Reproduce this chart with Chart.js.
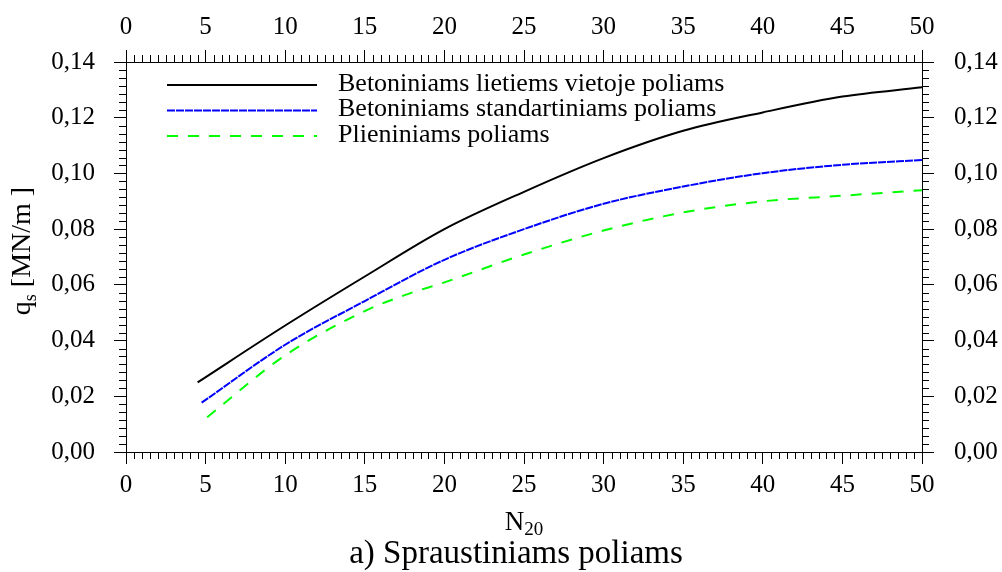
<!DOCTYPE html>
<html>
<head>
<meta charset="utf-8">
<script src="https://cdn.jsdelivr.net/npm/chart.js@4/dist/chart.umd.min.js"></script>
<style>
  html, body { margin: 0; padding: 0; background: #fff; }
  #dezute { width: 1002px; height: 572px; position: relative; }
</style>
</head>
<body>
<div id="dezute"><canvas id="grafikas"></canvas></div>
<script>
// Duomenys nuskaityti nuo paveikslo
const nLietiems = [4.5, 10, 15, 20, 25, 30, 35, 40, 45, 50];
const qLietiems = [0.025, 0.0454, 0.063, 0.080, 0.0934, 0.1055, 0.1153, 0.1219, 0.1276, 0.1309];
const nStandart = [4.75, 10, 15, 20, 25, 30, 35, 40, 45, 50];
const qStandart = [0.0177, 0.0385, 0.0542, 0.069, 0.080, 0.0891, 0.0953, 0.1001, 0.1031, 0.1048];
const nPlieno = [5.1, 10, 15, 17.5, 20, 25, 30, 35, 40, 45, 50];
const qPlieno = [0.0125, 0.0347, 0.0506, 0.0563, 0.0609, 0.0709, 0.0795, 0.086, 0.090, 0.092, 0.094];

const pavadinimai = ['Betoniniams lietiems vietoje poliams', 'Betoniniams standartiniams poliams', 'Plieniniams poliams'];
const xTitle = 'N';
const xTitleSub = '20';
const yTitle = 'q';
const yTitleSub = 's';
const yTitleRest = ' [MN/m ]';
const antraste = 'a) Spraustiniams poliams';

const serif = '"Liberation Serif", "Times New Roman", serif';

function taskai(xs, ys) {
    return xs.map((x, i) => ({ x: x, y: ys[i] }));
}

// Smulkios padalos ant visu keturiu asiu
const smulkiosPadalos = {
    id: 'smulkiosPadalos',
    afterDraw(chart) {
        const ctx = chart.ctx;
        const a = chart.chartArea;
        ctx.save();
        ctx.strokeStyle = '#000';
        ctx.lineWidth = 1;
        ctx.beginPath();
        for (let i = 1; i < 100; i++) {
            if (i % 10 === 0) continue;
            const px = Math.round(chart.scales.x.getPixelForValue(i * 0.5)) + 0.5;
            ctx.moveTo(px, a.bottom); ctx.lineTo(px, a.bottom + 7);
            ctx.moveTo(px, a.top); ctx.lineTo(px, a.top - 7);
        }
        for (let i = 1; i < 49; i++) {
            if (i % 7 === 0) continue;
            const py = Math.round(chart.scales.y.getPixelForValue(i * 0.02 / 7)) + 0.5;
            ctx.moveTo(a.left, py); ctx.lineTo(a.left - 7, py);
            ctx.moveTo(a.right, py); ctx.lineTo(a.right + 7, py);
        }
        ctx.stroke();
        ctx.restore();
    }
};

// Legenda grafiko viduje
const legendaViduje = {
    id: 'legendaViduje',
    afterDraw(chart) {
        const ctx = chart.ctx;
        ctx.save();
        ctx.font = '26px ' + serif;
        ctx.textBaseline = 'middle';
        ctx.fillStyle = '#000';
        chart.data.datasets.forEach((ds, i) => {
            const y = 85 + i * 25.5;
            ctx.strokeStyle = ds.borderColor;
            ctx.lineWidth = ds.borderWidth;
            ctx.setLineDash(ds.borderDash || []);
            ctx.beginPath();
            ctx.moveTo(167, y);
            ctx.lineTo(317, y);
            ctx.stroke();
            ctx.fillText(ds.label, 338, y - 1);
        });
        ctx.restore();
    }
};

// Asiu pavadinimai su indeksais
const pavadinimaiAsiu = {
    id: 'pavadinimaiAsiu',
    afterDraw(chart) {
        const ctx = chart.ctx;
        const a = chart.chartArea;
        ctx.save();
        ctx.fillStyle = '#000';
        ctx.textBaseline = 'alphabetic';

        // y asis
        ctx.font = '28px ' + serif;
        const w1 = ctx.measureText(yTitle).width;
        const w3 = ctx.measureText(yTitleRest).width;
        ctx.font = '18px ' + serif;
        const w2 = ctx.measureText(yTitleSub).width;
        const viso = w1 + w2 + w3;
        ctx.translate(30, 251);
        ctx.rotate(-Math.PI / 2);
        let x = -viso / 2;
        ctx.font = '28px ' + serif;
        ctx.fillText(yTitle, x, 0);
        x += w1;
        ctx.font = '18px ' + serif;
        ctx.fillText(yTitleSub, x, 6);
        x += w2;
        ctx.font = '28px ' + serif;
        ctx.fillText(yTitleRest, x, 0);
        ctx.setTransform(1, 0, 0, 1, 0, 0);

        // x asis
        ctx.font = '27px ' + serif;
        const n1 = ctx.measureText(xTitle).width;
        ctx.font = '19px ' + serif;
        const n2 = ctx.measureText(xTitleSub).width;
        let xs = (a.left + a.right) / 2 - (n1 + n2) / 2;
        ctx.font = '27px ' + serif;
        ctx.fillText(xTitle, xs, 530);
        ctx.font = '19px ' + serif;
        ctx.fillText(xTitleSub, xs + n1, 535);

        // antraste
        ctx.font = '33px ' + serif;
        ctx.textAlign = 'center';
        ctx.fillText(antraste, (a.left + a.right) / 2 - 8, 563);
        ctx.restore();
    }
};

function kablelis(v) {
    return v.toFixed(2).replace('.', ',');
}

const xAsis = (poz, pad, aukstis) => ({
    type: 'linear',
    position: poz,
    min: 0,
    max: 50,
    border: { display: true, color: '#000', width: 1 },
    grid: { display: true, drawOnChartArea: false, drawTicks: true, tickLength: 12, tickColor: '#000', tickWidth: 1 },
    ticks: { stepSize: 5, color: '#000', padding: pad, font: { family: serif, size: 25 }, maxRotation: 0 },
    afterFit: s => { s.height = aukstis; }
});

const yAsis = (poz, pad, plotis) => ({
    type: 'linear',
    position: poz,
    min: 0,
    max: 0.14,
    border: { display: true, color: '#000', width: 1 },
    grid: { display: true, drawOnChartArea: false, drawTicks: true, tickLength: 12, tickColor: '#000', tickWidth: 1 },
    ticks: { stepSize: 0.02, color: '#000', padding: pad, font: { family: serif, size: 25 }, callback: v => kablelis(v) },
    afterFit: s => { s.width = plotis; }
});

new Chart(document.getElementById('grafikas').getContext('2d'), {
    type: 'scatter',
    data: {
        datasets: [{
            label: pavadinimai[0],
            data: taskai(nLietiems, qLietiems),
            borderColor: '#000000',
            borderWidth: 2
        }, {
            label: pavadinimai[1],
            data: taskai(nStandart, qStandart),
            borderColor: '#0000ff',
            borderWidth: 2,
            borderDash: [8, 1]
        }, {
            label: pavadinimai[2],
            data: taskai(nPlieno, qPlieno),
            borderColor: '#00ff00',
            borderWidth: 2,
            borderDash: [11, 10]
        }]
    },
    options: {
        responsive: true,
        maintainAspectRatio: false,
        animation: false,
        showLine: true,
        elements: {
            point: { radius: 0 },
            line: { cubicInterpolationMode: 'monotone', fill: false }
        },
        layout: { padding: 0 },
        plugins: { legend: { display: false }, tooltip: { enabled: false } },
        scales: {
            x: xAsis('bottom', 6, 120),
            x2: xAsis('top', 8, 62),
            y: yAsis('left', 19, 126),
            y2: yAsis('right', 20, 80)
        }
    },
    plugins: [smulkiosPadalos, legendaViduje, pavadinimaiAsiu]
});
</script>
</body>
</html>
